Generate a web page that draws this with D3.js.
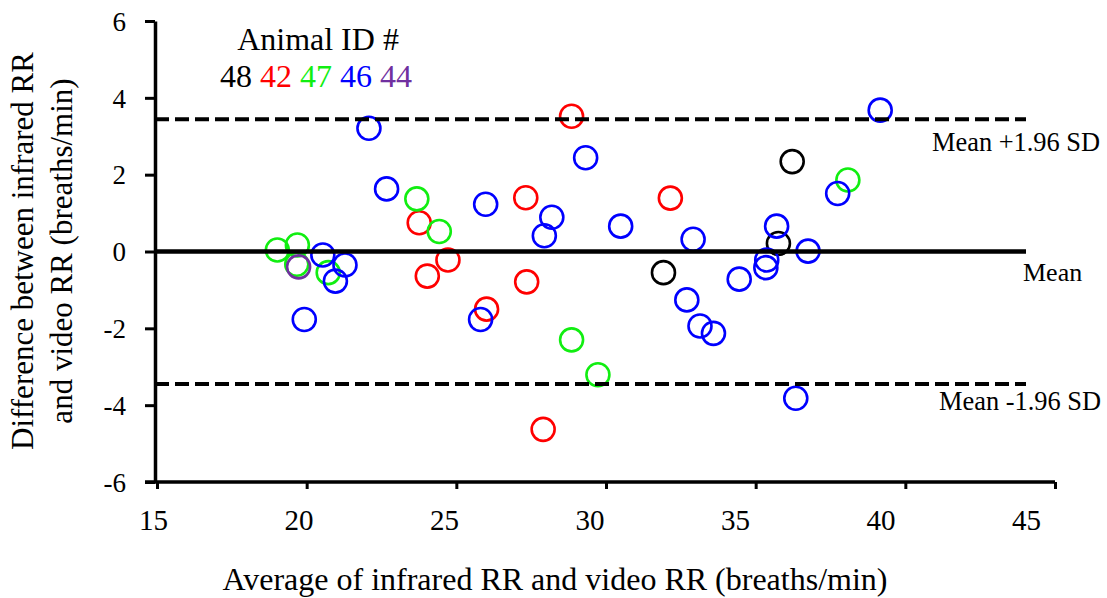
<!DOCTYPE html>
<html><head><meta charset="utf-8">
<script src="https://cdn.jsdelivr.net/npm/d3@7"></script>
<style>body{margin:0;background:#fff}svg{display:block}text{font-family:"Liberation Serif","Times New Roman",serif;fill:#000}</style>
</head><body><div id="c"></div>
<script>
// Animal IDs and colours
const animals = ["48","42","47","46","44"];
const animalColors = ["#000000","#ff0000","#11ee11","#0000ff","#7030a0"];
// [average RR, difference] per animal
const a48 = [[36.22,2.34],[35.76,0.21],[31.92,-0.55]];
const a42 = [[28.85,3.52],[27.32,1.40],[32.15,1.39],[23.76,0.75],[24.72,-0.22],[24.03,-0.64],[27.35,-0.79],[26.01,-1.50],[27.90,-4.63]];
const a47 = [[38.08,1.86],[23.68,1.37],[24.43,0.52],[19.02,0.04],[19.69,0.17],[19.67,-0.33],[20.72,-0.55],[28.85,-2.30],[29.73,-3.21]];
const a46 = [[39.16,3.68],[29.32,2.44],[37.74,1.51],[25.98,1.23],[28.19,0.89],[27.94,0.41],[30.49,0.66],[35.70,0.66],[32.91,0.32],[36.75,0.01],[35.37,-0.22],[35.34,-0.42],[34.45,-0.72],[32.70,-1.26],[33.14,-1.94],[33.59,-2.13],[36.34,-3.82],[20.54,-0.09],[21.28,-0.35],[20.96,-0.77],[19.92,-1.77],[25.81,-1.77],[22.67,1.63],[22.08,3.21]];
const a44 = [[19.73,-0.40]];
const seriesData = [a48,a42,a47,a46,a44];
const xTicks = [15,20,25,30,35,40,45];
const yTicks = [-6,-4,-2,0,2,4,6];
const meanDiff = 0;
const upperLoA = 3.44;
const lowerLoA = -3.45;
const refLabels = ["Mean +1.96 SD","Mean","Mean -1.96 SD"];

const W=1107,H=598;
const FONT='"Liberation Serif","Times New Roman",serif';
const svg=d3.select("#c").append("svg").attr("width",W).attr("height",H);
const x=d3.scaleLinear().domain([15,45]).range([157,1055]);
const xLab=d3.scaleLinear().domain([15,45]).range([153,1026]); // tick-label positions (slightly drifted in original)
const y=d3.scaleLinear().domain([-6,6]).range([482,21]);

// points
seriesData.forEach((s,i)=>{
  svg.append("g").selectAll("circle").data(s).join("circle")
    .attr("cx",d=>x(d[0])).attr("cy",d=>y(d[1])).attr("r",11.5)
    .attr("fill","none").attr("stroke",animalColors[i]).attr("stroke-width",2.6);
});

// reference lines
const lx1=x(15)-2, lx2=1026;
svg.append("line").attr("x1",lx1).attr("x2",lx2).attr("y1",y(meanDiff)).attr("y2",y(meanDiff)).attr("stroke","#000").attr("stroke-width",4.5);
[upperLoA,lowerLoA].forEach(v=>{
  svg.append("line").attr("x1",lx1).attr("x2",lx2).attr("y1",y(v)).attr("y2",y(v))
    .attr("stroke","#000").attr("stroke-width",4).attr("stroke-dasharray","14,6");
});
svg.append("text").attr("x",932).attr("y",y(upperLoA)+32).style("font-size","26.4px").text(refLabels[0]);
svg.append("text").attr("x",1023).attr("y",y(meanDiff)+29).style("font-size","26px").text(refLabels[1]);
svg.append("text").attr("x",939).attr("y",y(lowerLoA)+26).style("font-size","26.4px").text(refLabels[2]);

// axes
const fmt=d=>String(d);
const gx=svg.append("g").attr("transform",`translate(0,${y(-6)})`)
  .call(d3.axisBottom(x).tickValues(xTicks).tickFormat(fmt).tickSize(7).tickSizeOuter(0).tickPadding(0));
const gy=svg.append("g").attr("transform",`translate(${x(15)-2},0)`)
  .call(d3.axisLeft(y).tickValues(yTicks).tickFormat(fmt).tickSize(10).tickSizeOuter(0).tickPadding(19));
[gx,gy].forEach(g=>{
  g.select(".domain").attr("stroke","#000").attr("stroke-width",3.5);
  g.selectAll(".tick line").attr("stroke","#000").attr("stroke-width",3);
  g.selectAll(".tick text").style("font-family",FONT).style("fill","#000");
});
gx.selectAll(".tick text").style("font-size","29px")
  .attr("x",d=>xLab(d)-x(d)).attr("y",48).attr("dy",null);
gy.selectAll(".tick text").style("font-size","27px").attr("dy","0.34em");
gx.select(".domain").attr("d",`M${x(15)-12},0H${x(45)}`);

// axis titles
svg.append("text").attr("x",555).attr("y",590).attr("text-anchor","middle").style("font-size","32px")
  .text("Average of infrared RR and video RR (breaths/min)");
const yt=svg.append("text").attr("transform","translate(0,251) rotate(-90)").attr("text-anchor","middle").style("font-size","31px");
yt.append("tspan").attr("x",0).attr("y",33).text("Difference between infrared RR");
yt.append("tspan").attr("x",0).attr("y",72).text("and video RR (breaths/min)");

// legend
svg.append("text").attr("x",318).attr("y",50).attr("text-anchor","middle").style("font-size","32px").text("Animal ID #");
const lg=svg.append("text").attr("x",316).attr("y",87).attr("text-anchor","middle").style("font-size","32px");
animals.forEach((a,i)=>{ lg.append("tspan").style("fill",animalColors[i]).text((i?" ":"")+a); });
</script></body></html>
